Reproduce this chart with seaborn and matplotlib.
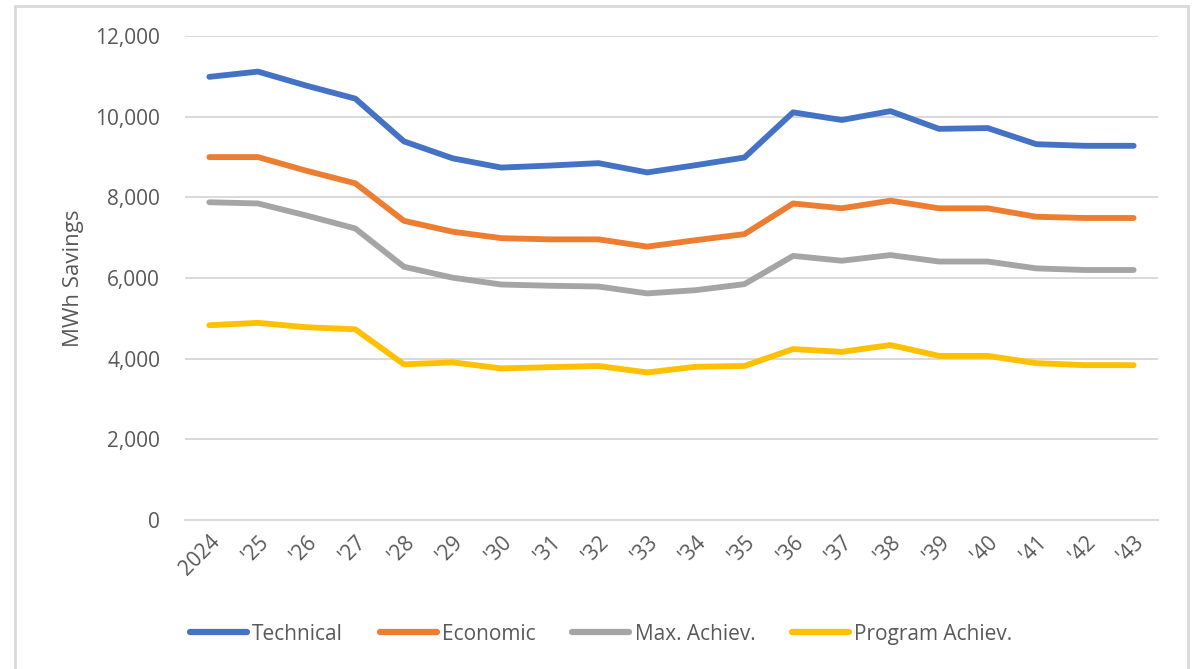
import numpy as np
import pandas as pd
import matplotlib
matplotlib.use("Agg")
import matplotlib.pyplot as plt
import seaborn as sns
from matplotlib.ticker import FuncFormatter
from matplotlib.lines import Line2D

sns.set_theme(style="white")
plt.rcParams["font.family"] = ["Open Sans", "DejaVu Sans"]

# ------------------------------------------------------------
# DATA
# ------------------------------------------------------------
years = ["2024", "'25", "'26", "'27", "'28", "'29", "'30", "'31", "'32", "'33",
         "'34", "'35", "'36", "'37", "'38", "'39", "'40", "'41", "'42", "'43"]

technical = [10990, 11120, 10770, 10450, 9390, 8970, 8740, 8790, 8850, 8620,
             8800, 8990, 10110, 9920, 10140, 9700, 9720, 9320, 9280, 9280]
economic = [9000, 9000, 8660, 8350, 7420, 7150, 6990, 6960, 6960, 6780,
            6940, 7090, 7850, 7730, 7920, 7730, 7730, 7520, 7490, 7490]
max_achiev = [7880, 7850, 7550, 7230, 6280, 6010, 5840, 5810, 5790, 5620,
              5700, 5850, 6550, 6430, 6570, 6410, 6410, 6240, 6200, 6200]
program_achiev = [4830, 4890, 4780, 4730, 3860, 3910, 3760, 3790, 3820, 3660,
                  3800, 3820, 4240, 4170, 4340, 4070, 4070, 3890, 3840, 3840]

series_names = ["Technical", "Economic", "Max. Achiev.", "Program Achiev."]
colors = ["#4472C4", "#ED7D31", "#A5A5A5", "#FFC000"]

df = pd.DataFrame({
    "Year": years,
    "Technical": technical,
    "Economic": economic,
    "Max. Achiev.": max_achiev,
    "Program Achiev.": program_achiev,
})
df["pos"] = np.arange(len(years))
long_df = df.melt(id_vars=["Year", "pos"], value_vars=series_names,
                  var_name="Series", value_name="MWh")

# ------------------------------------------------------------
# PLOT
# ------------------------------------------------------------
text_color = "#595959"
fig = plt.figure(figsize=(11.96, 6.69), dpi=100)
ax = fig.add_axes([0.1547, 0.2227, 0.8135, 0.7233])

sns.lineplot(data=long_df, x="pos", y="MWh", hue="Series",
             hue_order=series_names, palette=colors, linewidth=4.2,
             solid_capstyle="round", legend=False, ax=ax)

ax.set_xlim(-0.5, len(years) - 0.5)
ax.set_ylim(0, 12000)
ax.set_yticks(np.arange(0, 12001, 2000))
ax.yaxis.set_major_formatter(FuncFormatter(lambda v, p: f"{int(v):,}"))
ax.set_xticks(df["pos"])
ax.set_xticklabels(years, rotation=45, ha="right", rotation_mode="anchor")

ax.grid(axis="y", color="#D9D9D9", linewidth=1.4)
ax.set_axisbelow(True)
for s in ax.spines.values():
    s.set_visible(False)
ax.spines["bottom"].set_visible(True)
ax.spines["bottom"].set_color("#D9D9D9")
ax.spines["bottom"].set_linewidth(1.4)

ax.tick_params(axis="y", colors=text_color, labelsize=15, length=0, pad=18)
ax.tick_params(axis="x", colors=text_color, labelsize=15, length=0, pad=8)
ax.set_xlabel("")
ax.set_ylabel("MWh Savings", color=text_color, fontsize=16, labelpad=8)

handles = [Line2D([0], [0], color=c, linewidth=4.5, solid_capstyle="round")
           for c in colors]
fig.legend(handles, series_names, loc="center", bbox_to_anchor=(0.5025, 0.052),
           ncol=4, frameon=False, fontsize=15, handlelength=2.75,
           handletextpad=0.25, columnspacing=1.75, labelcolor=text_color)

# outer chart frame
frame_kw = dict(color="#D9D9D9", linewidth=2, transform=fig.transFigure)
fig.add_artist(Line2D([0.0125, 0.0125], [0, 0.991], **frame_kw))
fig.add_artist(Line2D([0.0125, 0.9935], [0.991, 0.991], **frame_kw))
fig.add_artist(Line2D([0.9935, 0.9935], [0, 0.991], **frame_kw))

fig.savefig("out.png", dpi=100, facecolor="white")
